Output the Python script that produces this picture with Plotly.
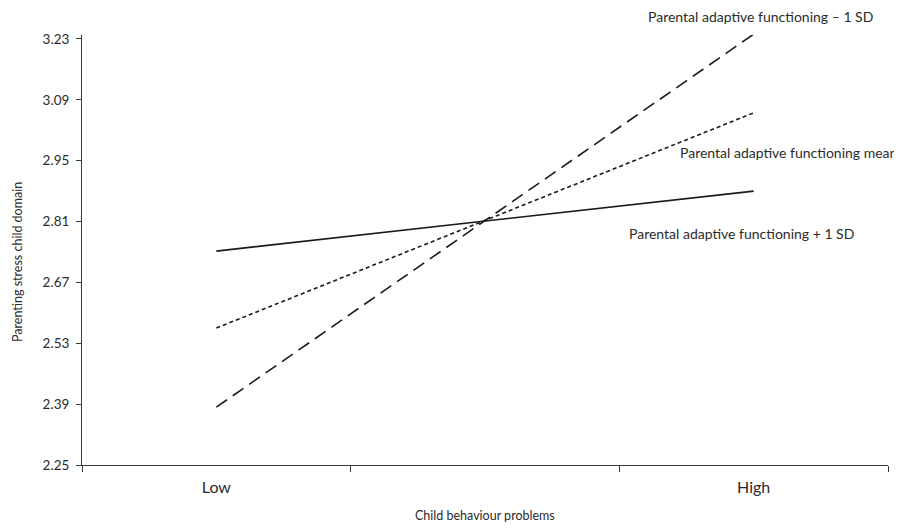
import plotly.graph_objects as go

categories = ["Low", "High"]
x_pos = [0, 2]
series_names = ["Parental adaptive functioning + 1 SD",
                "Parental adaptive functioning mean",
                "Parental adaptive functioning – 1 SD"]
plus_sd = [2.742, 2.88]
mean_vals = [2.565, 3.06]
minus_sd = [2.383, 3.241]
y_ticks = [2.25, 2.39, 2.53, 2.67, 2.81, 2.95, 3.09, 3.23]

font_family = "Lato, 'Open Sans', sans-serif"
txt = "#2b2b2b"
axc = "#3a3a3a"

fig = go.Figure()
fig.add_trace(go.Scatter(x=x_pos, y=plus_sd, mode="lines", name=series_names[0],
                         line=dict(color="#1a1a1a", width=1.6)))
fig.add_trace(go.Scatter(x=x_pos, y=mean_vals, mode="lines", name=series_names[1],
                         line=dict(color="#1a1a1a", width=1.6, dash="4px,3px")))
fig.add_trace(go.Scatter(x=x_pos, y=minus_sd, mode="lines", name=series_names[2],
                         line=dict(color="#1a1a1a", width=1.6, dash="13px,7px")))

ann = [
    dict(text=series_names[2], x=0.8424, y=1.0419, xanchor="center"),
    dict(text=series_names[1], x=0.7395, y=0.7256, xanchor="left"),
    dict(text=series_names[0], x=0.6762, y=0.5395, xanchor="left"),
]
for a in ann:
    fig.add_annotation(xref="paper", yref="paper", showarrow=False, yanchor="middle",
                       font=dict(family=font_family, size=14, color=txt), **a)

# axis titles
fig.add_annotation(xref="paper", yref="paper", showarrow=False,
                   x=(485 - 82) / 806, y=(465 - 515) / 430, xanchor="center", yanchor="middle",
                   text="Child behaviour problems", font=dict(family=font_family, size=12.5, color=txt))
fig.add_annotation(xref="paper", yref="paper", showarrow=False, textangle=-90,
                   x=(17 - 82) / 806, y=(465 - 262) / 430, xanchor="center", yanchor="middle",
                   text="Parenting stress child domain", font=dict(family=font_family, size=12.5, color=txt))

# the page body has an 8px default margin, so the figure is sized to compensate
fig.update_layout(
    width=894, height=521,
    margin=dict(l=74, r=14, t=27, b=64),
    plot_bgcolor="white", paper_bgcolor="white",
    showlegend=False,
    font=dict(family=font_family, color=txt),
    xaxis=dict(range=[-0.5, 2.5], tickvals=x_pos, ticktext=categories, ticks="",
               showgrid=False, zeroline=False, showline=True, linecolor=axc,
               linewidth=1, tickfont=dict(size=16, color=txt), automargin=False,
               ticklabelstandoff=8,
               minor=dict(tickvals=[-0.5, 0.5, 1.5, 2.5], ticks="outside", ticklen=6,
                          tickcolor=axc, showgrid=False)),
    yaxis=dict(range=[2.25, 3.239], tickvals=y_ticks, ticktext=[f"{v:.2f}" for v in y_ticks],
               ticks="outside", ticklen=5, tickcolor=axc, automargin=False,
               showgrid=False, zeroline=False, showline=True, linecolor=axc,
               linewidth=1, tickfont=dict(size=13.5, color=txt), ticklabelstandoff=4),
)

fig.write_html("out.html")
